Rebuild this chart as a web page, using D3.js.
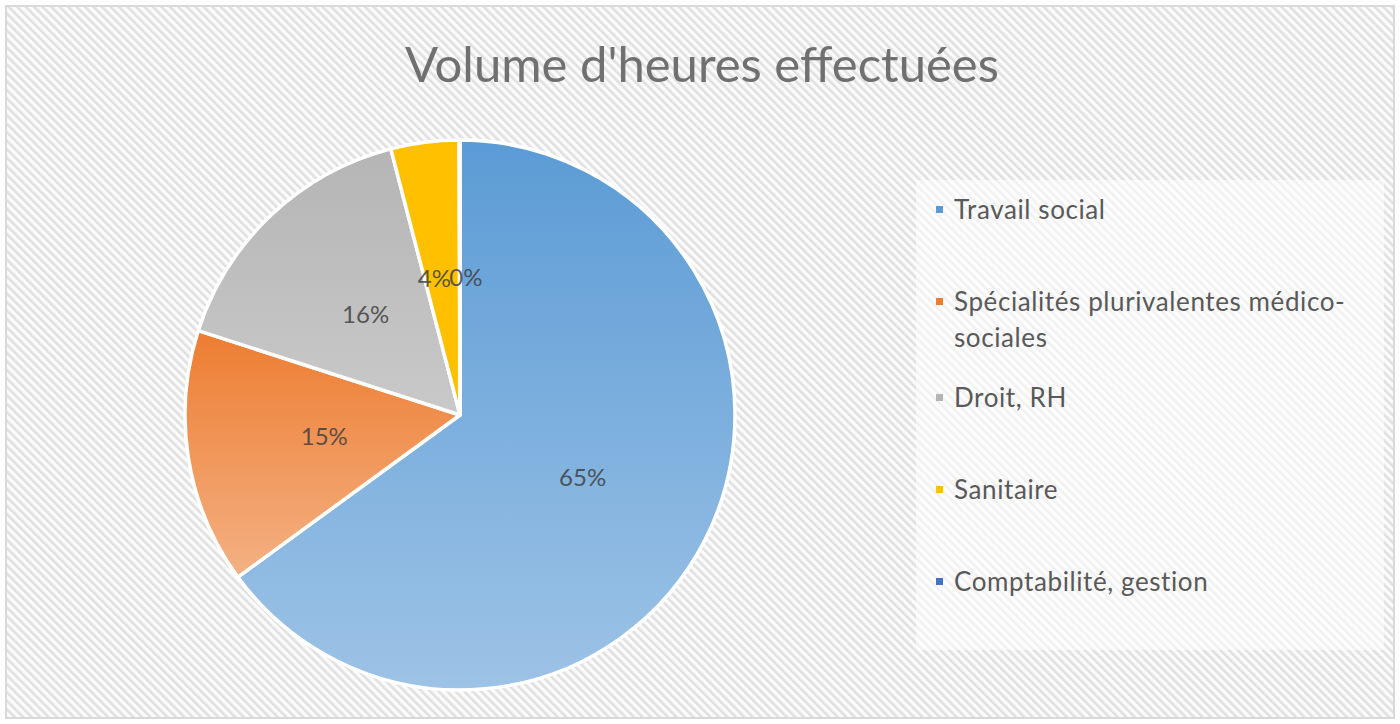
<!DOCTYPE html>
<html>
<head>
<meta charset="utf-8">
<script src="https://cdn.jsdelivr.net/npm/d3@7"></script>
<style>
  body { margin: 0; background: #fff; }
  svg { display: block; }
</style>
</head>
<body>
<svg id="chart" width="1400" height="724"></svg>
<script>
var categories = ['Travail social', 'Spécialités plurivalentes médico-sociales', 'Droit, RH', 'Sanitaire', 'Comptabilité, gestion'];
var legendLines = [['Travail social'], ['Spécialités plurivalentes médico-', 'sociales'], ['Droit, RH'], ['Sanitaire'], ['Comptabilité, gestion']];
var values = [65, 15, 16, 4, 0.05];
var pctLabels = ['65%', '15%', '16%', '4%', '0%'];
var colorsTop = ['#5b9bd5', '#ed7d31', '#b5b5b5', '#ffc000', '#4472c4'];
var colorsBottom = ['#9dc3e6', '#f4b183', '#c9c9c9', '#ffc000', '#4472c4'];

var svg = d3.select('#chart');
var defs = svg.append('defs');

var pat = defs.append('pattern').attr('id', 'hatch')
  .attr('patternUnits', 'userSpaceOnUse')
  .attr('width', 6).attr('height', 6)
  .attr('patternTransform', 'rotate(-45)');
pat.append('rect').attr('width', 6).attr('height', 6).attr('fill', '#fbfbfb');
pat.append('rect').attr('x', 0).attr('width', 2.6).attr('height', 6).attr('fill', '#e0e0e0');

categories.forEach(function(c, i) {
  var g = defs.append('linearGradient').attr('id', 'grad' + i)
    .attr('x1', 0).attr('y1', 0).attr('x2', 0).attr('y2', 1);
  g.append('stop').attr('offset', '0%').attr('stop-color', colorsTop[i]);
  g.append('stop').attr('offset', '100%').attr('stop-color', colorsBottom[i]);
});

// background + frame
svg.append('rect').attr('x', 6).attr('y', 6).attr('width', 1388).attr('height', 712)
  .attr('fill', 'url(#hatch)').attr('stroke', '#d9d9d9').attr('stroke-width', 2);

svg.append('text').attr('x', 702).attr('y', 82)
  .attr('text-anchor', 'middle')
  .attr('font-family', 'Lato, "Open Sans", sans-serif')
  .attr('font-size', 49)
  .attr('fill', '#707070')
  .text("Volume d'heures effectuées");

// pie
var cx = 460, cy = 415, R = 275;
var pie = d3.pie().sort(null).value(d => d);
var arc = d3.arc().innerRadius(0).outerRadius(R);
var labelArc = d3.arc().innerRadius(R * 0.5).outerRadius(R * 0.5);
var arcs = pie(values);

var pg = svg.append('g').attr('transform', `translate(${cx},${cy})`);
pg.selectAll('path.slice').data(arcs).enter().append('path')
  .attr('class', 'slice')
  .attr('d', arc)
  .attr('fill', (d, i) => `url(#grad${i})`)
  .attr('stroke', '#fff')
  .attr('stroke-width', 3.5)
  .attr('stroke-linejoin', 'round');

pg.selectAll('text.lbl').data(arcs).enter().append('text')
  .attr('class', 'lbl')
  .attr('transform', function(d, i) {
    var c = labelArc.centroid(d);
    if (i == 3) c[0] -= 8;
    if (i == 4) c[0] += 6;
    return `translate(${c[0]},${c[1]})`;
  })
  .attr('text-anchor', 'middle')
  .attr('dy', '0.35em')
  .attr('font-family', 'Lato, "Open Sans", sans-serif')
  .attr('font-size', 24)
  .attr('fill', '#404040')
  .attr('fill-opacity', 0.85)
  .text((d, i) => pctLabels[i]);

// legend
svg.append('rect').attr('x', 916).attr('y', 180).attr('width', 468).attr('height', 470)
  .attr('fill', '#fff').attr('fill-opacity', 0.55);

var legendY = [210, 302, 398, 490, 582];
var lg = svg.append('g');
legendLines.forEach(function(lines, i) {
  lg.append('rect').attr('x', 936).attr('y', legendY[i] - 4).attr('width', 7).attr('height', 7)
    .attr('fill', colorsTop[i]);
  lines.forEach(function(t, j) {
    lg.append('text').attr('x', 954).attr('y', legendY[i] + j * 36)
      .attr('dy', '0.35em')
      .attr('font-family', 'Lato, "Open Sans", sans-serif')
      .attr('font-size', 26)
      .attr('letter-spacing', 0.6)
      .attr('fill', '#595959')
      .text(t);
  });
});
</script>
</body>
</html>
